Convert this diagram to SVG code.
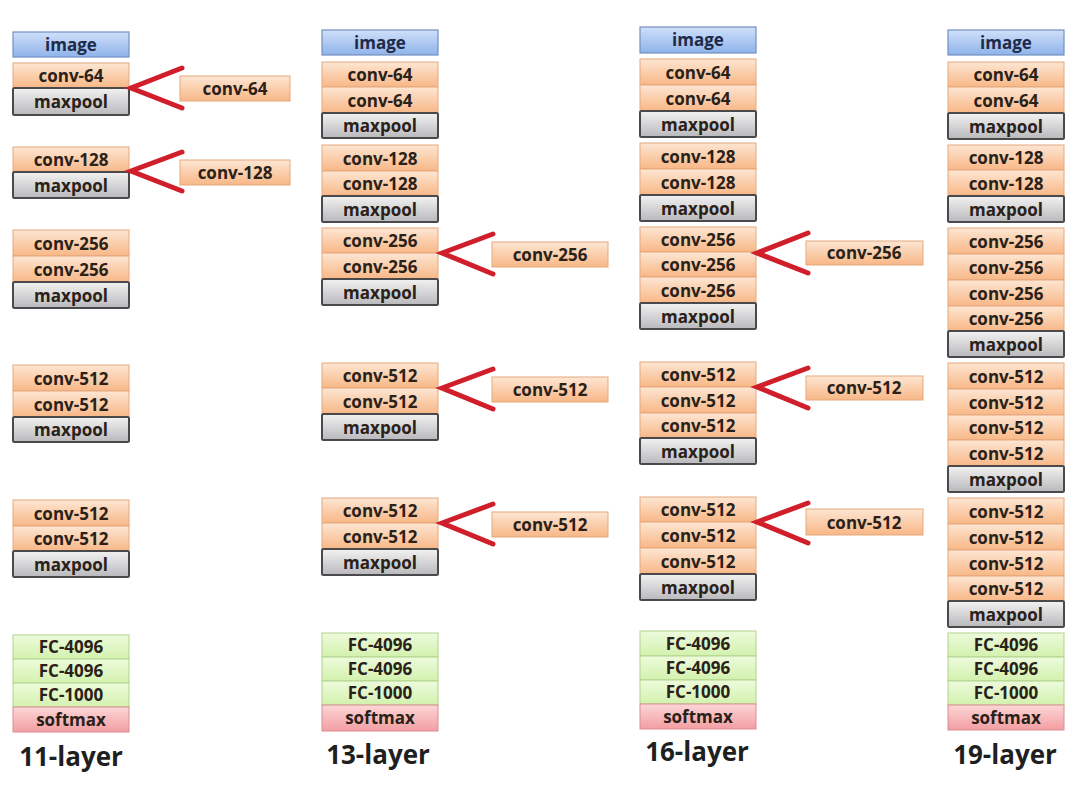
<svg xmlns="http://www.w3.org/2000/svg" width="1084" height="796" viewBox="0 0 1084 796">
<defs>
<linearGradient id="gConv" x1="0" y1="0" x2="0" y2="1"><stop offset="0" stop-color="#fde6d3"/><stop offset="1" stop-color="#f8b786"/></linearGradient>
<linearGradient id="gPool" x1="0" y1="0" x2="0" y2="1"><stop offset="0" stop-color="#f2f2f2"/><stop offset="1" stop-color="#b9b9bd"/></linearGradient>
<linearGradient id="gImg" x1="0" y1="0" x2="0" y2="1"><stop offset="0" stop-color="#cfe0fa"/><stop offset="1" stop-color="#8fb3ea"/></linearGradient>
<linearGradient id="gFc" x1="0" y1="0" x2="0" y2="1"><stop offset="0" stop-color="#edfbdc"/><stop offset="1" stop-color="#d3f1ae"/></linearGradient>
<linearGradient id="gSm" x1="0" y1="0" x2="0" y2="1"><stop offset="0" stop-color="#fcd6d6"/><stop offset="1" stop-color="#f29ea2"/></linearGradient>
</defs>
<style>
.conv{fill:url(#gConv);stroke:#e6a87c;stroke-width:1}
.pool{fill:url(#gPool);stroke:#4a4a4c;stroke-width:2}
.img{fill:url(#gImg);stroke:#7290c0;stroke-width:1.2}
.fc{fill:url(#gFc);stroke:#b2d38e;stroke-width:1}
.sm{fill:url(#gSm);stroke:#d98e92;stroke-width:1}
text{font-family:"Open Sans","Liberation Sans",sans-serif;font-weight:700;font-size:17px;fill:#2a2118;text-anchor:middle}
.it{fill:#1e2a48}
.lbl{font-size:26px;fill:#1f1f1f}
.chev{fill:none;stroke:#d01f2a;stroke-width:5;stroke-linecap:round;stroke-linejoin:miter}
</style>

<g id="col1">
<g id="c1-image"><rect class="img" x="13" y="32" width="116" height="25"/><text class="it" x="71" y="50.5">image</text></g>
<g id="c1-conv64"><rect class="conv" x="13" y="63" width="116" height="25"/><text x="71" y="81.5">conv-64</text></g>
<g id="c1-pool1"><rect class="pool" x="13" y="88" width="116" height="27" rx="1.5"/><text x="71" y="107.5">maxpool</text></g>
<g id="c1-conv128"><rect class="conv" x="13" y="147" width="116" height="25"/><text x="71" y="165.5">conv-128</text></g>
<g id="c1-pool2"><rect class="pool" x="13" y="172" width="116" height="26" rx="1.5"/><text x="71" y="191.5">maxpool</text></g>
<g id="c1-conv256a"><rect class="conv" x="13" y="230" width="116" height="26"/><text x="71" y="249.5">conv-256</text></g>
<g id="c1-conv256b"><rect class="conv" x="13" y="256" width="116" height="26"/><text x="71" y="275.5">conv-256</text></g>
<g id="c1-pool3"><rect class="pool" x="13" y="282" width="116" height="26" rx="1.5"/><text x="71" y="301.5">maxpool</text></g>
<g id="c1-conv512a"><rect class="conv" x="13" y="365" width="116" height="26"/><text x="71" y="384.5">conv-512</text></g>
<g id="c1-conv512b"><rect class="conv" x="13" y="391" width="116" height="26"/><text x="71" y="410.5">conv-512</text></g>
<g id="c1-pool4"><rect class="pool" x="13" y="417" width="116" height="25" rx="1.5"/><text x="71" y="435.5">maxpool</text></g>
<g id="c1-conv512c"><rect class="conv" x="13" y="500" width="116" height="26"/><text x="71" y="519.5">conv-512</text></g>
<g id="c1-conv512d"><rect class="conv" x="13" y="526" width="116" height="25"/><text x="71" y="544.5">conv-512</text></g>
<g id="c1-pool5"><rect class="pool" x="13" y="551" width="116" height="26" rx="1.5"/><text x="71" y="570.5">maxpool</text></g>
<g id="c1-fc1"><rect class="fc" x="13" y="635" width="116" height="24"/><text x="71" y="653">FC-4096</text></g>
<g id="c1-fc2"><rect class="fc" x="13" y="659" width="116" height="24"/><text x="71" y="677">FC-4096</text></g>
<g id="c1-fc3"><rect class="fc" x="13" y="683" width="116" height="24"/><text x="71" y="701">FC-1000</text></g>
<g id="c1-softmax"><rect class="sm" x="13" y="707" width="116" height="25"/><text x="71" y="725.5">softmax</text></g>
<g id="c1-label"><text class="lbl" x="71" y="766">11-layer</text></g>
</g>

<g id="col2">
<g id="c2-image"><rect class="img" x="322" y="30" width="116" height="25"/><text class="it" x="380" y="48.5">image</text></g>
<g id="c2-conv64a"><rect class="conv" x="322" y="62" width="116" height="25"/><text x="380" y="80.5">conv-64</text></g>
<g id="c2-conv64b"><rect class="conv" x="322" y="87" width="116" height="26"/><text x="380" y="106.5">conv-64</text></g>
<g id="c2-pool1"><rect class="pool" x="322" y="113" width="116" height="25" rx="1.5"/><text x="380" y="131.5">maxpool</text></g>
<g id="c2-conv128a"><rect class="conv" x="322" y="145" width="116" height="26"/><text x="380" y="164.5">conv-128</text></g>
<g id="c2-conv128b"><rect class="conv" x="322" y="171" width="116" height="25"/><text x="380" y="189.5">conv-128</text></g>
<g id="c2-pool2"><rect class="pool" x="322" y="196" width="116" height="26" rx="1.5"/><text x="380" y="215.5">maxpool</text></g>
<g id="c2-conv256a"><rect class="conv" x="322" y="228" width="116" height="25"/><text x="380" y="246.5">conv-256</text></g>
<g id="c2-conv256b"><rect class="conv" x="322" y="253" width="116" height="26"/><text x="380" y="272.5">conv-256</text></g>
<g id="c2-pool3"><rect class="pool" x="322" y="279" width="116" height="26" rx="1.5"/><text x="380" y="298.5">maxpool</text></g>
<g id="c2-conv512a"><rect class="conv" x="322" y="363" width="116" height="25"/><text x="380" y="381.5">conv-512</text></g>
<g id="c2-conv512b"><rect class="conv" x="322" y="388" width="116" height="26"/><text x="380" y="407.5">conv-512</text></g>
<g id="c2-pool4"><rect class="pool" x="322" y="414" width="116" height="26" rx="1.5"/><text x="380" y="433.5">maxpool</text></g>
<g id="c2-conv512c"><rect class="conv" x="322" y="498" width="116" height="25"/><text x="380" y="516.5">conv-512</text></g>
<g id="c2-conv512d"><rect class="conv" x="322" y="523" width="116" height="26"/><text x="380" y="542.5">conv-512</text></g>
<g id="c2-pool5"><rect class="pool" x="322" y="549" width="116" height="26" rx="1.5"/><text x="380" y="568.5">maxpool</text></g>
<g id="c2-fc1"><rect class="fc" x="322" y="633" width="116" height="24"/><text x="380" y="651">FC-4096</text></g>
<g id="c2-fc2"><rect class="fc" x="322" y="657" width="116" height="24"/><text x="380" y="675">FC-4096</text></g>
<g id="c2-fc3"><rect class="fc" x="322" y="681" width="116" height="24"/><text x="380" y="699">FC-1000</text></g>
<g id="c2-softmax"><rect class="sm" x="322" y="705" width="116" height="26"/><text x="380" y="724">softmax</text></g>
<g id="c2-label"><text class="lbl" x="378" y="764">13-layer</text></g>
<g id="c2-side256"><rect class="conv" x="492" y="242" width="116" height="25"/><text x="550" y="260.5">conv-256</text></g>
<g id="c2-side512a"><rect class="conv" x="492" y="377" width="116" height="25"/><text x="550" y="395.5">conv-512</text></g>
<g id="c2-side512b"><rect class="conv" x="492" y="512" width="116" height="25"/><text x="550" y="530.5">conv-512</text></g>
</g>

<g id="col3">
<g id="c3-image"><rect class="img" x="640" y="27" width="116" height="26"/><text class="it" x="698" y="46">image</text></g>
<g id="c3-conv64a"><rect class="conv" x="640" y="59" width="116" height="26"/><text x="698" y="78.5">conv-64</text></g>
<g id="c3-conv64b"><rect class="conv" x="640" y="85" width="116" height="26"/><text x="698" y="104.5">conv-64</text></g>
<g id="c3-pool1"><rect class="pool" x="640" y="111" width="116" height="26" rx="1.5"/><text x="698" y="130.5">maxpool</text></g>
<g id="c3-conv128a"><rect class="conv" x="640" y="143" width="116" height="26"/><text x="698" y="162.5">conv-128</text></g>
<g id="c3-conv128b"><rect class="conv" x="640" y="169" width="116" height="26"/><text x="698" y="188.5">conv-128</text></g>
<g id="c3-pool2"><rect class="pool" x="640" y="195" width="116" height="26" rx="1.5"/><text x="698" y="214.5">maxpool</text></g>
<g id="c3-conv256a"><rect class="conv" x="640" y="227" width="116" height="25"/><text x="698" y="245.5">conv-256</text></g>
<g id="c3-conv256b"><rect class="conv" x="640" y="252" width="116" height="25"/><text x="698" y="270.5">conv-256</text></g>
<g id="c3-conv256c"><rect class="conv" x="640" y="277" width="116" height="26"/><text x="698" y="296.5">conv-256</text></g>
<g id="c3-pool3"><rect class="pool" x="640" y="303" width="116" height="26" rx="1.5"/><text x="698" y="322.5">maxpool</text></g>
<g id="c3-conv512a"><rect class="conv" x="640" y="362" width="116" height="25"/><text x="698" y="380.5">conv-512</text></g>
<g id="c3-conv512b"><rect class="conv" x="640" y="387" width="116" height="26"/><text x="698" y="406.5">conv-512</text></g>
<g id="c3-conv512c"><rect class="conv" x="640" y="413" width="116" height="25"/><text x="698" y="431.5">conv-512</text></g>
<g id="c3-pool4"><rect class="pool" x="640" y="438" width="116" height="26" rx="1.5"/><text x="698" y="457.5">maxpool</text></g>
<g id="c3-conv512d"><rect class="conv" x="640" y="497" width="116" height="25"/><text x="698" y="515.5">conv-512</text></g>
<g id="c3-conv512e"><rect class="conv" x="640" y="522" width="116" height="26"/><text x="698" y="541.5">conv-512</text></g>
<g id="c3-conv512f"><rect class="conv" x="640" y="548" width="116" height="26"/><text x="698" y="567.5">conv-512</text></g>
<g id="c3-pool5"><rect class="pool" x="640" y="574" width="116" height="26" rx="1.5"/><text x="698" y="593.5">maxpool</text></g>
<g id="c3-fc1"><rect class="fc" x="640" y="631" width="116" height="25"/><text x="698" y="649.5">FC-4096</text></g>
<g id="c3-fc2"><rect class="fc" x="640" y="656" width="116" height="24"/><text x="698" y="674">FC-4096</text></g>
<g id="c3-fc3"><rect class="fc" x="640" y="680" width="116" height="24"/><text x="698" y="698">FC-1000</text></g>
<g id="c3-softmax"><rect class="sm" x="640" y="704" width="116" height="25"/><text x="698" y="722.5">softmax</text></g>
<g id="c3-label"><text class="lbl" x="697" y="761">16-layer</text></g>
<g id="c3-side256"><rect class="conv" x="806" y="241" width="117" height="24"/><text x="864" y="259">conv-256</text></g>
<g id="c3-side512a"><rect class="conv" x="806" y="376" width="117" height="24"/><text x="864" y="394">conv-512</text></g>
<g id="c3-side512b"><rect class="conv" x="806" y="509" width="117" height="26"/><text x="864" y="528.5">conv-512</text></g>
</g>

<g id="col4">
<g id="c4-image"><rect class="img" x="948" y="30" width="116" height="25"/><text class="it" x="1006" y="48.5">image</text></g>
<g id="c4-conv64a"><rect class="conv" x="948" y="62" width="116" height="25"/><text x="1006" y="80.5">conv-64</text></g>
<g id="c4-conv64b"><rect class="conv" x="948" y="87" width="116" height="26"/><text x="1006" y="106.5">conv-64</text></g>
<g id="c4-pool1"><rect class="pool" x="948" y="113" width="116" height="26" rx="1.5"/><text x="1006" y="132.5">maxpool</text></g>
<g id="c4-conv128a"><rect class="conv" x="948" y="145" width="116" height="25"/><text x="1006" y="163.5">conv-128</text></g>
<g id="c4-conv128b"><rect class="conv" x="948" y="170" width="116" height="26"/><text x="1006" y="189.5">conv-128</text></g>
<g id="c4-pool2"><rect class="pool" x="948" y="196" width="116" height="26" rx="1.5"/><text x="1006" y="215.5">maxpool</text></g>
<g id="c4-conv256a"><rect class="conv" x="948" y="228" width="116" height="26"/><text x="1006" y="247.5">conv-256</text></g>
<g id="c4-conv256b"><rect class="conv" x="948" y="254" width="116" height="26"/><text x="1006" y="273.5">conv-256</text></g>
<g id="c4-conv256c"><rect class="conv" x="948" y="280" width="116" height="26"/><text x="1006" y="299.5">conv-256</text></g>
<g id="c4-conv256d"><rect class="conv" x="948" y="306" width="116" height="25"/><text x="1006" y="324.5">conv-256</text></g>
<g id="c4-pool3"><rect class="pool" x="948" y="331" width="116" height="26" rx="1.5"/><text x="1006" y="350.5">maxpool</text></g>
<g id="c4-conv512a"><rect class="conv" x="948" y="363" width="116" height="26"/><text x="1006" y="382.5">conv-512</text></g>
<g id="c4-conv512b"><rect class="conv" x="948" y="389" width="116" height="26"/><text x="1006" y="408.5">conv-512</text></g>
<g id="c4-conv512c"><rect class="conv" x="948" y="415" width="116" height="25"/><text x="1006" y="433.5">conv-512</text></g>
<g id="c4-conv512d"><rect class="conv" x="948" y="440" width="116" height="26"/><text x="1006" y="459.5">conv-512</text></g>
<g id="c4-pool4"><rect class="pool" x="948" y="466" width="116" height="26" rx="1.5"/><text x="1006" y="485.5">maxpool</text></g>
<g id="c4-conv512e"><rect class="conv" x="948" y="498" width="116" height="26"/><text x="1006" y="517.5">conv-512</text></g>
<g id="c4-conv512f"><rect class="conv" x="948" y="524" width="116" height="26"/><text x="1006" y="543.5">conv-512</text></g>
<g id="c4-conv512g"><rect class="conv" x="948" y="550" width="116" height="26"/><text x="1006" y="569.5">conv-512</text></g>
<g id="c4-conv512h"><rect class="conv" x="948" y="576" width="116" height="25"/><text x="1006" y="594.5">conv-512</text></g>
<g id="c4-pool5"><rect class="pool" x="948" y="601" width="116" height="26" rx="1.5"/><text x="1006" y="620.5">maxpool</text></g>
<g id="c4-fc1"><rect class="fc" x="948" y="633" width="116" height="24"/><text x="1006" y="651">FC-4096</text></g>
<g id="c4-fc2"><rect class="fc" x="948" y="657" width="116" height="24"/><text x="1006" y="675">FC-4096</text></g>
<g id="c4-fc3"><rect class="fc" x="948" y="681" width="116" height="24"/><text x="1006" y="699">FC-1000</text></g>
<g id="c4-softmax"><rect class="sm" x="948" y="705" width="116" height="25"/><text x="1006" y="723.5">softmax</text></g>
<g id="c4-label"><text class="lbl" x="1005" y="764">19-layer</text></g>
</g>

<g id="c1-sides">
<g id="c1-side64"><rect class="conv" x="180" y="76" width="110" height="25"/><text x="235" y="94.5">conv-64</text></g>
<g id="c1-side128"><rect class="conv" x="180" y="160" width="110" height="25"/><text x="235" y="178.5">conv-128</text></g>
</g>

<g id="connectors">
<polyline class="chev" points="182,68 131,88 182,108"/>
<polyline class="chev" points="182,152 131,171 182,191"/>
<polyline class="chev" points="493,234 442,253 493,274"/>
<polyline class="chev" points="493,369 442,388 493,409"/>
<polyline class="chev" points="493,504 442,523 493,544"/>
<polyline class="chev" points="808,233 757,253 808,273"/>
<polyline class="chev" points="808,368 757,387 808,408"/>
<polyline class="chev" points="808,503 757,522 808,543"/>
</g>
</svg>
